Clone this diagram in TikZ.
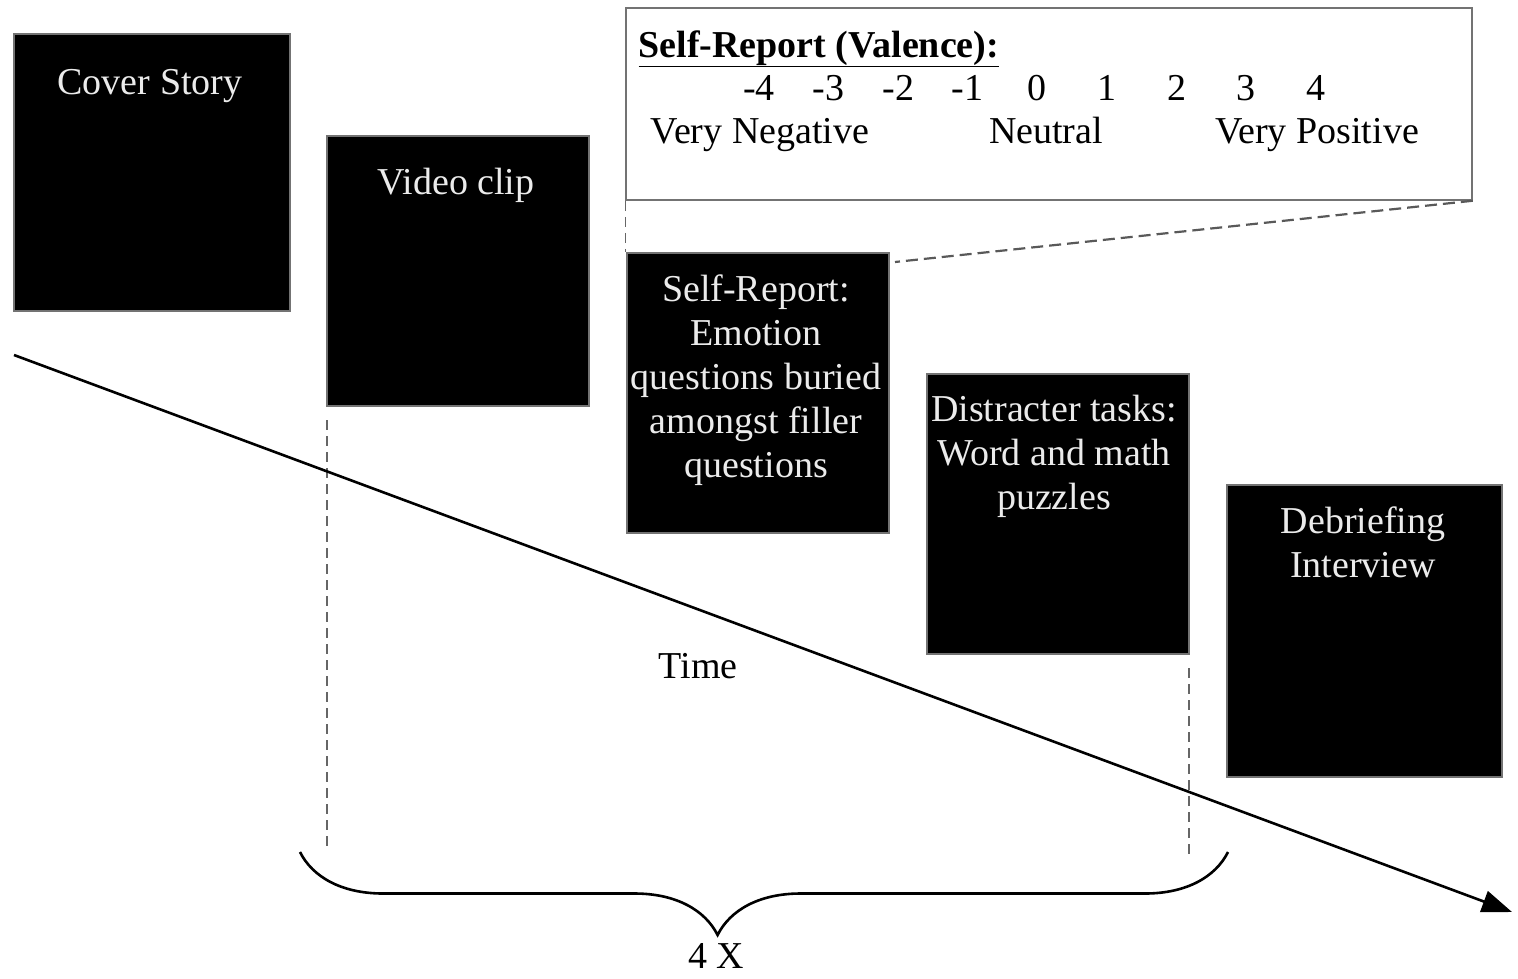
\documentclass[tikz,border=0pt]{standalone}
\usepackage{fontspec}
\setmainfont{Liberation Serif}
\usetikzlibrary{arrows.meta,decorations.pathreplacing,positioning}

\tikzset{every picture/.style={line width=1pt}}
\tikzset{
  stage/.style={rectangle, fill=black, draw=black!55, line width=1.5pt, inner sep=0pt},
  stagetext/.style={text=white!92!black, align=center, font=\fontsize{38}{44}\selectfont, inner sep=0pt},
  plain/.style={font=\fontsize{38}{44}\selectfont, inner sep=0pt},
  scalebox/.style={rectangle, draw=black!55, line width=1.5pt, inner sep=0pt},
  guide/.style={draw=black!60, line width=1.4pt, dash pattern={on 10pt off 6pt}},
  zoomline/.style={draw=black!65, line width=2.2pt, dash pattern={on 12pt off 6pt}},
  timeline/.style={line width=2.6pt, -{Triangle[length=30pt,width=22pt]}},
  repbrace/.style={line width=2.6pt, decorate, decoration={brace, mirror, amplitude=83pt, aspect=0.45}}
}

\begin{document}
\begin{tikzpicture}[x=1pt,y=1pt,yscale=-1,xscale=1]
    \useasboundingbox (0,0) rectangle (1518,978);
    \node [stage, minimum width=276, minimum height=277] (cover) at (152,172.5) {};
    \node [stage, minimum width=262, minimum height=270] (video) at (458,271) {};
    \node [stage, minimum width=262, minimum height=280] (selfrep) at (758,393) {};
    \node [stage, minimum width=262, minimum height=280] (distract) at (1058,514) {};
    \node [stage, minimum width=275, minimum height=292] (debrief) at (1364.5,631) {};
    \node [scalebox, minimum width=846, minimum height=192] (valence) at (1049,104) {};

    \node [stagetext] (covertext) at (150,86) {Cover Story};
    \node [stagetext] (videotext) at (456,185) {Video clip};
    \node [stagetext] (selfreptext) at (756,380) {Self-Report:\\Emotion\\questions buried\\amongst filler\\questions};
    \node [stagetext] (distracttext) at (1054,456) {Distracter tasks:\\Word and math\\puzzles};
    \node [stagetext] (debrieftext) at (1363,542) {Debriefing\\Interview};

    \node [plain, anchor=base west] (valtitle) at (638,57) {\underline{\textbf{Self-Report (Valence):}}};
    \foreach \v [count=\i] in {-4,-3,-2,-1,0,1,2,3,4}
        \node [plain, anchor=base] (num\i) at ({759+69.6*(\i-1)},100) {\v};
    \node [plain, anchor=base] (veryneg) at (760,143) {Very Negative};
    \node [plain, anchor=base] (neutral) at (1046,143) {Neutral};
    \node [plain, anchor=base] (verypos) at (1317,143) {Very Positive};

    \coordinate (zoomend) at (895,262);
    \draw [guide] (valence.south west) -- (valence.south west |- selfrep.north);
    \draw [zoomline] (valence.south east) -- (zoomend);

    \coordinate (looptop) at (327,420);
    \coordinate (loopbot) at (327,850);
    \coordinate (endtop) at (1189,668);
    \coordinate (endbot) at (1189,858);
    \draw [guide] (looptop) -- (loopbot);
    \draw [guide] (endtop) -- (endbot);

    \coordinate (tstart) at (14,355);
    \coordinate (tend) at (1512,912);
    \draw [timeline] (tstart) -- (tend);
    \node [plain, anchor=base] (timelabel) at (698,678) {Time};

    \coordinate (braceleft) at (300,852);
    \coordinate (braceright) at (1228,852);
    \draw [repbrace] (braceleft) -- (braceright);
    \node [plain, anchor=base] (reps) at (716,968) {4 X};
\end{tikzpicture}
\end{document}
